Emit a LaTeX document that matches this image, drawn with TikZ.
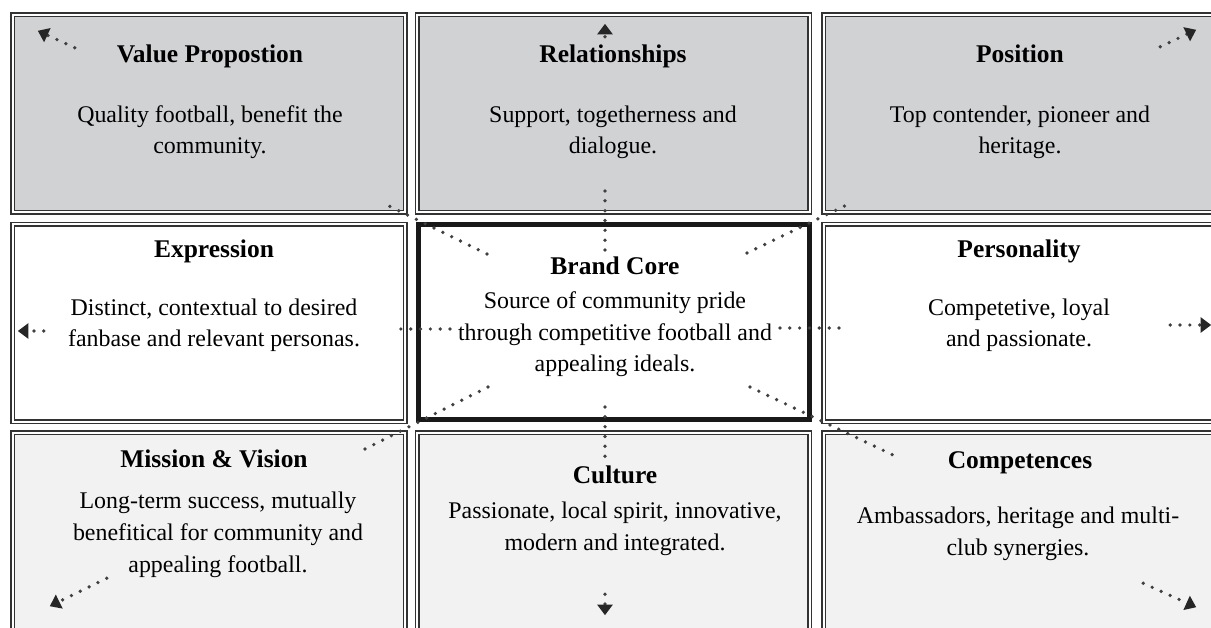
\documentclass[tikz,border=0pt]{standalone}
\usepackage{fontspec}
\setmainfont{Liberation Serif}
\usetikzlibrary{arrows.meta}

\definecolor{toprow}{HTML}{D1D2D4}
\definecolor{botrow}{HTML}{F2F2F2}
\definecolor{rim}{HTML}{333333}
\definecolor{dotgray}{HTML}{404040}

\tikzset{
  block/.style={rectangle, draw=rim, double=white, double distance=1.1pt, line width=0.95pt,
    outer sep=0pt, minimum width=7.85cm, minimum height=3.95cm},
  core/.style={rectangle, draw=black!90, line width=2.8pt, fill=white, outer sep=0pt,
    minimum width=7.82cm, minimum height=3.9cm},
  boxtitle/.style={font=\fontsize{14.5}{18}\selectfont\bfseries, anchor=base, inner sep=0pt},
  boxtext/.style={font=\fontsize{13.6}{18.1}\selectfont, align=center, anchor=base, inner sep=0pt},
  dotline/.style={dotgray, line width=2.1pt, line cap=round, dash pattern=on 0pt off 5.6pt},
  dotarrow/.style={dotline, -{Triangle[length=6pt, width=8.5pt, color=black!85]}},
}

\begin{document}
\begin{tikzpicture}[x=0.02cm, y=-0.02cm]
  \useasboundingbox (0,0) rectangle (1211,628);
  \clip (0,0) rectangle (1211,628);

  % the nine fields
  \node[block, fill=toprow] (vp)   at (209,113.5)   {};
  \node[block, fill=toprow] (rel)  at (613.5,113.5) {};
  \node[block, fill=toprow] (pos)  at (1020,113.5)  {};
  \node[block, fill=white]  (expr) at (209,323)     {};
  \node[block, fill=white]  (pers) at (1020,323)    {};
  \node[block, fill=botrow] (mis)  at (209,531.5)   {};
  \node[block, fill=botrow] (cul)  at (613.5,531.5) {};
  \node[block, fill=botrow] (comp) at (1020,531.5)  {};
  \node[core] (bc) at (614,322) {};

  % dotted rays through the core
  \draw[dotline] ([shift={(68.5,29.5)}]bc.north west) -- ([shift={(-33.5,-20.5)}]bc.north west);
  \draw[dotline] ([shift={(-9,25.5)}]bc.north) -- ([shift={(-9,-41.5)}]bc.north);
  \draw[dotline] ([shift={(-62.5,28.5)}]bc.north east) -- ([shift={(43.5,-22.5)}]bc.north east);
  \draw[dotline] ([shift={(31.5,7)}]bc.west) -- ([shift={(-25.5,7)}]bc.west);
  \draw[dotline] ([shift={(-29.5,6)}]bc.east) -- ([shift={(30.5,6)}]bc.east);
  \draw[dotline] ([shift={(69.5,-32.5)}]bc.south west) -- ([shift={(-55.5,30.5)}]bc.south west);
  \draw[dotline] ([shift={(-9,-12.5)}]bc.south) -- ([shift={(-9,43.5)}]bc.south);
  \draw[dotline] ([shift={(-59.5,-32.5)}]bc.south east) -- ([shift={(83.5,35.5)}]bc.south east);

  % arrow ends in the outer fields
  \draw[dotarrow] ([shift={(62,33)}]vp.north west) -- ([shift={(25,16)}]vp.north west);
  \draw[dotarrow] ([shift={(-8.5,22)}]rel.north) -- ([shift={(-8.5,9)}]rel.north);
  \draw[dotarrow] ([shift={(-56,32)}]pos.north east) -- ([shift={(-20,15)}]pos.north east);
  \draw[dotarrow] ([shift={(31,8)}]expr.west) -- ([shift={(5,8)}]expr.west);
  \draw[dotarrow] ([shift={(-46,2)}]pers.east) -- ([shift={(-5,2)}]pers.east);
  \draw[dotarrow] ([shift={(94,-52)}]mis.south west) -- ([shift={(37,-24)}]mis.south west);
  \draw[dotarrow] ([shift={(-8.5,-36)}]cul.south) -- ([shift={(-8.5,-15)}]cul.south);
  \draw[dotarrow] ([shift={(-73,-47)}]comp.south east) -- ([shift={(-20,-23)}]comp.south east);

  % titles and texts (text nodes sit on their last baseline)
  \node[boxtitle] (vptitle) at (210,63) {Value Propostion};
  \node[boxtext]  (vptext)  at (210,154) {Quality football, benefit the\\community.};
  \node[boxtitle] (reltitle) at (613,63) {Relationships};
  \node[boxtext]  (reltext)  at (613,154) {Support, togetherness and\\dialogue.};
  \node[boxtitle] (postitle) at (1020,63) {Position};
  \node[boxtext]  (postext)  at (1020,154) {Top contender, pioneer and\\heritage.};

  \node[boxtitle] (exprtitle) at (214,258) {Expression};
  \node[boxtext]  (exprtext)  at (214,347) {Distinct, contextual to desired\\fanbase and relevant personas.};
  \node[boxtitle] (bctitle) at (615,275) {Brand Core};
  \node[boxtext]  (bctext)  at (615,372) {Source of community pride\\through competitive football and\\appealing ideals.};
  \node[boxtitle] (perstitle) at (1019,258) {Personality};
  \node[boxtext]  (perstext)  at (1019,347) {Competetive, loyal\\and passionate.};

  \node[boxtitle] (mistitle) at (214,467) {Mission \& Vision};
  \node[boxtext]  (mistext)  at (218,572) {Long-term success, mutually\\benefitical for community and\\appealing football.};
  \node[boxtitle] (cultitle) at (615,483) {Culture};
  \node[boxtext]  (cultext)  at (615,550) {Passionate, local spirit, innovative,\\modern and integrated.};
  \node[boxtitle] (comptitle) at (1020,468) {Competences};
  \node[boxtext]  (comptext)  at (1018,555) {Ambassadors, heritage and multi-\\club synergies.};
\end{tikzpicture}
\end{document}
